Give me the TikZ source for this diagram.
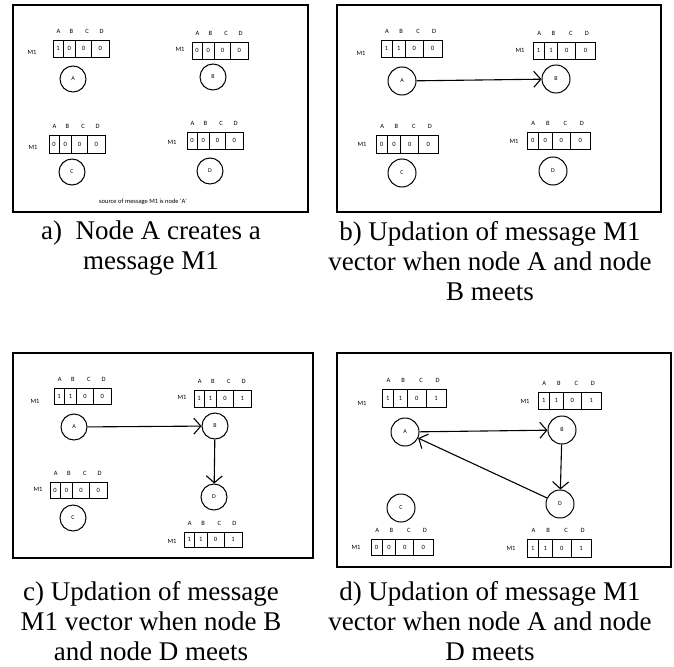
\documentclass[tikz,border=0pt]{standalone}
\usepackage{fontspec}
\setmainfont{Liberation Serif}
\newfontfamily\diafont{Carlito}
\usetikzlibrary{arrows.meta}
\def\mvsplit#1/#2/#3/#4\relax{\def\mva{#1}\def\mvb{#2}\def\mvc{#3}\def\mvd{#4}}
\newcommand\lowd[1]{\raisebox{-2.5pt}{#1}}
\newcommand\msgvec[7]{%
  \pgfmathsetmacro\mvl{#2}\pgfmathsetmacro\mvr{#4}%
  \pgfmathsetmacro\mvw{\mvr-\mvl}%
  \pgfmathsetmacro\mvxa{\mvl+0.18*\mvw}%
  \pgfmathsetmacro\mvxb{\mvl+0.40*\mvw}%
  \pgfmathsetmacro\mvxc{\mvl+0.69*\mvw}%
  \pgfmathsetmacro\mvym{(#3+#5)/2}%
  \pgfmathsetmacro\mvyl{#3-8.5}%
  \mvsplit#7\relax
  \draw[vcell] (#2,#3) rectangle (#4,#5);
  \draw[vcell] (\mvxa,#3) -- (\mvxa,#5) (\mvxb,#3) -- (\mvxb,#5) (\mvxc,#3) -- (\mvxc,#5);
  \node[smalltext] (#1-m) at (#6) {M1};
  \node[smalltext] (#1-v1) at ({(\mvl+\mvxa)/2},\mvym) {\mva};
  \node[smalltext] (#1-v2) at ({(\mvxa+\mvxb)/2},\mvym) {\mvb};
  \node[smalltext] (#1-v3) at ({(\mvxb+\mvxc)/2},\mvym) {\mvc};
  \node[smalltext] (#1-v4) at ({(\mvxc+\mvr)/2},\mvym) {\mvd};
  \node[smalltext] (#1-lA) at ({\mvl+0.10*\mvw},\mvyl) {A};
  \node[smalltext] (#1-lB) at ({\mvl+0.33*\mvw},\mvyl) {B};
  \node[smalltext] (#1-lC) at ({\mvl+0.61*\mvw},\mvyl) {C};
  \node[smalltext] (#1-lD) at ({\mvl+0.87*\mvw},\mvyl) {D};
}
\tikzset{
  panelframe/.style={draw=black, line width=2.4pt},
  vcell/.style={draw=black, line width=0.9pt},
  smalltext/.style={font=\diafont\fontsize{6.5}{7}\selectfont, inner sep=0pt},
  nd/.style={circle, draw=black, line width=1pt, minimum size=26pt, inner sep=0pt, font=\diafont\fontsize{6}{7}\selectfont},
  arr/.style={-{Straight Barb[length=7pt,width=16pt]}, line width=1.1pt},
  captext/.style={font=\fontsize{27}{30}\selectfont, align=center, inner sep=0pt, anchor=north}
}
\begin{document}
\begin{tikzpicture}[x=1pt,y=-1pt]
\useasboundingbox[fill=white] (0,0) rectangle (674,666);
% ---------- panel a ----------
\draw[panelframe] (13,5) rectangle (308,212);
\msgvec{aA}{53}{40}{109}{57}{32,52}{1/0/0/0}
\msgvec{aB}{192}{42}{248}{59}{180,49}{0/0/0/0}
\msgvec{aC}{49}{135}{105}{153}{33,147}{0/0/0/0}
\msgvec{aD}{187}{132}{243}{149}{172,142}{0/0/0/0}
\node[nd] (aNA) at (73,79) {A};
\node[nd] (aNB) at (213,77) {B};
\node[nd] (aNC) at (72,172) {C};
\node[nd] (aND) at (210,171) {D};
\node[smalltext] (asrc) at (143,202) {source of message M1 is node \textquotesingle A\textquotesingle};
% ---------- panel b ----------
\draw[panelframe] (337,5) rectangle (661,212);
\msgvec{bA}{381}{40}{442}{57}{361,53}{1/1/0/0}
\msgvec{bB}{533}{42}{595}{59}{520,50}{1/1/\lowd{0}/\lowd{0}}
\msgvec{bC}{376}{135}{438}{153}{362,144}{0/0/0/0}
\msgvec{bD}{527}{132}{590}{149}{514,141}{0/0/0/0}
\node[nd, minimum size=28pt] (bNA) at (402,81) {A};
\node[nd, minimum size=28pt] (bNB) at (556,79) {B};
\node[nd, minimum size=28pt] (bNC) at (402,173) {C};
\node[nd, minimum size=28pt] (bND) at (553,171) {D};
\draw[arr] (bNA) -- (bNB);
% ---------- panel c ----------
\draw[panelframe] (13,353) rectangle (313,558);
\msgvec{cA}{54}{388}{111}{404}{35,401}{1/1/0/0}
\msgvec{cB}{194}{390}{251}{407}{182,397}{1/1/\lowd{0}/1}
\msgvec{cC}{50}{482}{107}{498}{38,489}{0/0/0/0}
\msgvec{cD}{184}{532}{242}{547}{172,541}{1/1/\lowd{0}/1}
\node[nd] (cNA) at (74,427) {A};
\node[nd] (cNB) at (215,426) {B};
\node[nd] (cNC) at (73,518) {C};
\node[nd] (cND) at (214,497) {D};
\draw[arr] (cNA) -- (cNB);
\draw[arr] (cNB) -- (cND);
% ---------- panel d ----------
\draw[panelframe] (337,353) rectangle (671,567);
\msgvec{dA}{382}{389}{446}{407}{362,403}{1/1/0/1}
\msgvec{dB}{538}{392}{601}{409}{525,401}{1/1/\lowd{0}/1}
\msgvec{dC}{371}{539}{433}{555}{356,547}{0/0/0/0}
\msgvec{dD}{527}{539}{591}{557}{511,548}{1/1/\lowd{0}/1}
\node[nd, minimum size=28pt] (dNA) at (405,432) {A};
\node[nd, minimum size=28pt] (dNB) at (562,430) {B};
\node[nd, minimum size=28pt] (dNC) at (401,508) {C};
\node[nd, minimum size=28pt] (dND) at (560,504) {D};
\draw[arr] (dNA) -- (dNB);
\draw[arr] (dNB) -- (dND);
\draw[arr] (dND) -- (dNA);
% ---------- captions ----------
\node[captext] (capa) at (151,221) {a)\ \ Node A creates a\\message M1};
\node[captext] (capb) at (490,221) {b) Updation of message M1\\vector when node A and node\\B meets};
\node[captext] (capc) at (151,581) {c) Updation of message\\M1 vector when node B\\and node D meets};
\node[captext] (capd) at (490,581) {d) Updation of message M1\\vector when node A and node\\D meets};
\end{tikzpicture}
\end{document}
